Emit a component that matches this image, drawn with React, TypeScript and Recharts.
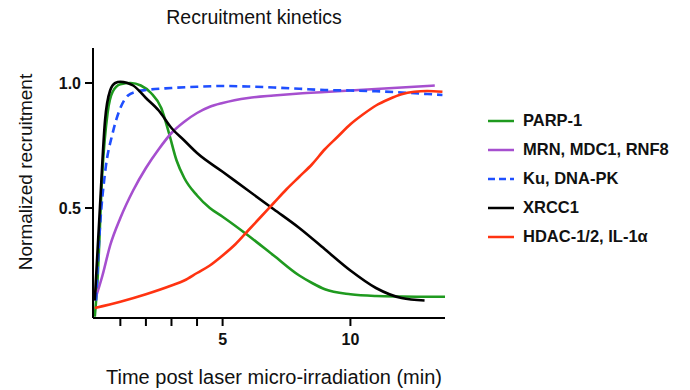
import React from 'react';
import { LineChart, Line, XAxis, YAxis, Legend } from 'recharts';

// [time (min), normalized recruitment]
const parp1: [number, number][] = [
  [0, 0.065], [0.1, 0.2], [0.3, 0.65], [0.5, 0.88], [0.7, 0.965], [1.0, 0.995], [1.4, 1.0],
  [1.8, 0.99], [2.2, 0.96], [2.6, 0.9], [2.9, 0.8], [3.2, 0.69], [3.5, 0.62], [4, 0.55],
  [4.5, 0.5], [5, 0.465], [6, 0.39], [7, 0.31], [8, 0.23], [8.5, 0.2], [9, 0.175],
  [10, 0.155], [11, 0.148], [12, 0.146], [13, 0.145], [13.7, 0.145],
];
const mrn: [number, number][] = [
  [0, 0.13], [0.3, 0.23], [0.6, 0.35], [1.0, 0.46], [1.5, 0.57], [2, 0.66], [2.5, 0.735],
  [3, 0.8], [3.5, 0.845], [4, 0.88], [4.5, 0.905], [5, 0.92], [6, 0.94], [7, 0.95],
  [8, 0.958], [9, 0.964], [10, 0.97], [11, 0.976], [12, 0.982], [13, 0.988], [13.3, 0.99],
];
const ku: [number, number][] = [
  [0.05, 0.13], [0.2, 0.42], [0.4, 0.64], [0.7, 0.8], [1.0, 0.9], [1.3, 0.95], [1.6, 0.965],
  [2, 0.972], [3, 0.98], [4, 0.985], [5, 0.988], [6, 0.986], [7, 0.982], [8, 0.977],
  [9, 0.972], [10, 0.97], [11, 0.967], [12, 0.962], [13, 0.956], [13.6, 0.952],
];
const xrcc1: [number, number][] = [
  [0, 0.13], [0.2, 0.5], [0.4, 0.85], [0.6, 0.97], [0.8, 1.0], [1.0, 1.005], [1.5, 0.99],
  [2.0, 0.94], [2.5, 0.89], [3.0, 0.82], [3.5, 0.77], [4, 0.72], [5, 0.645], [6, 0.57],
  [7, 0.495], [8, 0.42], [9, 0.335], [10, 0.25], [11, 0.18], [12, 0.14], [12.9, 0.13],
];
const hdac: [number, number][] = [
  [0, 0.1], [1, 0.125], [2, 0.155], [3, 0.19], [3.5, 0.21], [4, 0.24], [4.5, 0.27],
  [5, 0.31], [5.5, 0.355], [6, 0.41], [6.5, 0.465], [7, 0.52], [7.5, 0.575], [8, 0.625],
  [8.5, 0.675], [9, 0.735], [9.5, 0.785], [10, 0.835], [10.5, 0.875], [11, 0.91],
  [11.5, 0.935], [12, 0.955], [12.5, 0.965], [13, 0.968], [13.6, 0.965],
];

const xTicks = [1, 2, 3, 4, 5, 10];
const xTickLabels = [5, 10];
const yTicks = [0.5, 1.0];

const series = [
  { name: 'PARP-1', data: parp1, color: '#1f9a1f', dash: undefined },
  { name: 'MRN, MDC1, RNF8', data: mrn, color: '#a64fcf', dash: undefined },
  { name: 'Ku, DNA-PK', data: ku, color: '#1f4fff', dash: '8 5' },
  { name: 'XRCC1', data: xrcc1, color: '#000000', dash: undefined },
  { name: 'HDAC-1/2, IL-1\u03b1', data: hdac, color: '#ff3311', dash: undefined },
];

const FONT = "Arial, 'Liberation Sans', sans-serif";

const toPoints = (d: [number, number][]) => d.map(([x, y]) => ({ x, y }));

const renderLegend = () => (
  <div style={{ fontFamily: FONT, fontWeight: 700, fontSize: 16.5, color: '#111' }}>
    {series.map((s) => (
      <div key={s.name} style={{ display: 'flex', alignItems: 'center', height: 29 }}>
        <svg width={26} height={6} style={{ marginRight: 9 }}>
          <line x1={0} y1={3} x2={26} y2={3} stroke={s.color} strokeWidth={2.5} strokeDasharray={s.dash ? '7 4' : undefined} />
        </svg>
        <span>{s.name}</span>
      </div>
    ))}
  </div>
);

const YLabel = () => (
  <text x={25} y={172} transform="rotate(-90, 25, 172)" textAnchor="middle" dominantBaseline="central"
    style={{ fontFamily: FONT, fontSize: 19, fill: '#111' }}>
    Normalized recruitment
  </text>
);

const XLabel = () => (
  <text x={274} y={377} textAnchor="middle" dominantBaseline="central"
    style={{ fontFamily: FONT, fontSize: 20, fill: '#111' }}>
    Time post laser micro-irradiation (min)
  </text>
);

export default function App() {
  return (
    <div style={{ position: 'absolute', left: 0, top: 0, width: 690, height: 390, background: '#fff' }}>
      <div style={{ position: 'absolute', left: 0, top: 6, width: 508, textAlign: 'center', fontFamily: FONT, fontSize: 19.5, color: '#111' }}>
        Recruitment kinetics
      </div>
      <LineChart width={690} height={390} margin={{ top: 48, right: 245, bottom: 0, left: 0 }}>
        <XAxis type="number" dataKey="x" domain={[-0.07, 13.65]} ticks={xTicks}
          tickFormatter={(v: number) => (xTickLabels.includes(v) ? String(v) : '')}
          stroke="#000" strokeWidth={2} tickSize={8} tickMargin={8} height={72}
          tick={{ fill: '#111', fontFamily: FONT, fontWeight: 700, fontSize: 16 }}
          label={<XLabel />} />
        <YAxis type="number" dataKey="y" domain={[0.06, 1.14]} ticks={yTicks}
          tickFormatter={(v: number) => v.toFixed(1)}
          stroke="#000" strokeWidth={2} tickSize={8} tickMargin={4} width={93}
          tick={{ fill: '#111', fontFamily: FONT, fontWeight: 700, fontSize: 16 }}
          label={<YLabel />} />
        <Legend layout="vertical" align="center" verticalAlign="middle" content={renderLegend}
          wrapperStyle={{ left: 488, top: 106, width: 202 }} />
        {series.map((s) => (
          <Line key={s.name} name={s.name} data={toPoints(s.data)} dataKey="y" type="monotone"
            stroke={s.color} strokeWidth={2.6} strokeDasharray={s.dash} dot={false}
            activeDot={false} isAnimationActive={false} />
        ))}
      </LineChart>
    </div>
  );
}
